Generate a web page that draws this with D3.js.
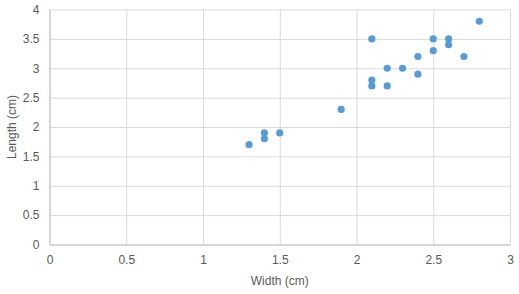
<!DOCTYPE html>
<html>
<head>
<meta charset="utf-8">
<script src="https://cdn.jsdelivr.net/npm/d3@7"></script>
<style>
  body { margin: 0; background: #fff; }
  text { font-family: "Liberation Sans", Arial, sans-serif; fill: #595959; }
</style>
</head>
<body>
<div id="chart"></div>
<script>
// data
var widths  = [1.3, 1.4, 1.4, 1.5, 1.9, 2.1, 2.1, 2.1, 2.2, 2.2, 2.3, 2.4, 2.4, 2.5, 2.5, 2.6, 2.6, 2.7, 2.8];
var lengths = [1.7, 1.9, 1.8, 1.9, 2.3, 3.5, 2.8, 2.7, 3.0, 2.7, 3.0, 3.2, 2.9, 3.5, 3.3, 3.5, 3.4, 3.2, 3.8];
var xTicks = [0, 0.5, 1, 1.5, 2, 2.5, 3];
var yTicks = [0, 0.5, 1, 1.5, 2, 2.5, 3, 3.5, 4];

var svgWidth = 519;
var svgHeight = 294;
var margin = { top: 9.5, right: 9, bottom: 49.5, left: 49.5 };
var width = svgWidth - margin.left - margin.right;
var height = svgHeight - margin.top - margin.bottom;

var svg = d3.select("#chart")
  .append("svg")
  .attr("width", svgWidth)
  .attr("height", svgHeight);

var chartGroup = svg.append("g")
  .attr("transform", `translate(${margin.left}, ${margin.top})`);

var xScale = d3.scaleLinear().domain([0, 3]).range([0, width]);
var yScale = d3.scaleLinear().domain([0, 4]).range([height, 0]);

// gridlines
chartGroup.append("g")
  .call(d3.axisBottom(xScale).tickValues(xTicks).tickSize(-height).tickFormat(""))
  .attr("transform", `translate(0, ${height})`)
  .call(g => g.select(".domain").remove())
  .call(g => g.selectAll("line").attr("stroke", "#d9d9d9"));

chartGroup.append("g")
  .call(d3.axisLeft(yScale).tickValues(yTicks).tickSize(-width).tickFormat(""))
  .call(g => g.select(".domain").remove())
  .call(g => g.selectAll("line").attr("stroke", "#d9d9d9"));

// axes with labels
var xAxis = chartGroup.append("g")
  .attr("transform", `translate(0, ${height})`)
  .call(d3.axisBottom(xScale).tickValues(xTicks).tickSize(0).tickPadding(11).tickFormat(d3.format("")));
xAxis.select(".domain").attr("stroke", "#bfbfbf");
xAxis.selectAll("text").attr("font-size", "12px").style("fill", "#595959");

var yAxis = chartGroup.append("g")
  .call(d3.axisLeft(yScale).tickValues(yTicks).tickSize(0).tickPadding(10).tickFormat(d3.format("")));
yAxis.select(".domain").attr("stroke", "#bfbfbf");
yAxis.selectAll("text").attr("font-size", "12px").style("fill", "#595959");

// points
chartGroup.selectAll("circle")
  .data(widths)
  .enter()
  .append("circle")
  .attr("cx", d => xScale(d))
  .attr("cy", (d, i) => yScale(lengths[i]))
  .attr("r", 3.6)
  .attr("fill", "#5b9bd5");

// axis titles
svg.append("text")
  .attr("x", margin.left + width / 2)
  .attr("y", 285)
  .attr("text-anchor", "middle")
  .attr("font-size", "12px")
  .text("Width (cm)");

svg.append("text")
  .attr("transform", `translate(16, ${margin.top + height / 2}) rotate(-90)`)
  .attr("text-anchor", "middle")
  .attr("font-size", "12px")
  .text("Length (cm)");
</script>
</body>
</html>
